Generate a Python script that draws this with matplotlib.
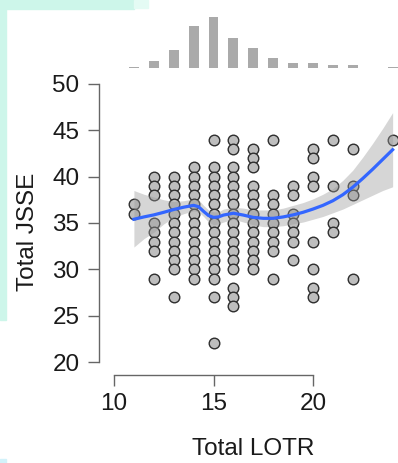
import matplotlib
matplotlib.use("Agg")
import matplotlib.pyplot as plt
from matplotlib.patches import Rectangle

plt.rcParams['font.family'] = ['Liberation Sans', 'DejaVu Sans']

# raw points, one line per LOTR score
lotr = ([11]*2 + [12]*8 + [13]*12 + [14]*13 + [15]*16 + [16]*17 + [17]*13 +
        [18]*9 + [19]*7 + [20]*8 + [21]*4 + [22]*4 + [24]*1)
jsse = [37, 36,
        40, 39, 38, 35, 34, 33, 32, 29,
        40, 39, 38, 37, 36, 35, 34, 33, 32, 31, 30, 27,
        41, 40, 39, 38, 37, 36, 35, 34, 33, 32, 31, 30, 29,
        44, 41, 40, 39, 38, 37, 36, 35, 34, 33, 32, 31, 30, 29, 27, 22,
        44, 43, 41, 40, 39, 38, 37, 36, 35, 34, 33, 32, 31, 30, 28, 27, 26,
        43, 42, 41, 39, 38, 37, 36, 35, 34, 33, 32, 31, 30,
        44, 38, 37, 36, 35, 34, 33, 32, 29,
        39, 38, 36, 35, 34, 33, 31,
        43, 42, 40, 39, 33, 30, 28, 27,
        44, 39, 35, 34,
        43, 39, 38, 29,
        44]

# marginal histogram of LOTR
hist_x = [11, 12, 13, 14, 15, 16, 17, 18, 19, 20, 21, 22, 24]
hist_n = [2, 10, 27, 62, 75, 44, 29, 14, 8, 8, 4, 4, 1]

# loess fit + confidence band
fit_x = [11, 11.5, 12, 12.5, 13, 13.5, 14, 14.25, 14.5, 14.75, 15, 15.25, 15.5,
         16, 16.5, 17, 17.5, 18, 18.5, 19, 19.5, 20, 20.5, 21, 21.5, 22, 22.5,
         23, 23.5, 24]
fit_y = [35.4, 35.65, 35.87, 36.15, 36.45, 36.7, 36.9, 36.75, 36.25, 35.8,
         35.6, 35.65, 35.85, 36.05, 35.85, 35.6, 35.5, 35.5, 35.65, 35.87, 36.15,
         36.5, 36.9, 37.4, 38.05, 38.86, 39.8, 40.8, 41.85, 42.9]
fit_lo = [32.4, 33.3, 34.0, 34.9, 35.6, 36.0, 36.3, 36.2, 35.7, 35.1, 34.8,
          34.9, 35.1, 35.4, 35.1, 34.8, 34.6, 34.6, 34.7, 34.9, 35.1, 35.4,
          35.7, 36.1, 36.5, 37.0, 37.5, 38.0, 38.5, 38.9]
fit_hi = [38.5, 38.1, 37.8, 37.5, 37.3, 37.4, 37.6, 37.5, 36.9, 36.4, 36.2,
          36.2, 36.5, 36.7, 36.6, 36.4, 36.4, 36.4, 36.6, 36.9, 37.2, 37.6,
          38.1, 38.7, 39.6, 40.7, 42.1, 43.6, 45.2, 46.9]

W, H = 398, 463
fig = plt.figure(figsize=(W/100, H/100), dpi=100)

# stray light-cyan strips at the top-left edge of the picture
fig.add_artist(Rectangle((0, 1 - 9/H), 134/W, 9/H, transform=fig.transFigure,
                         color='#cdf6ea', zorder=0))
fig.add_artist(Rectangle((134/W, 1 - 8/H), 14/W, 8/H, transform=fig.transFigure,
                         color='#e4fbf4', zorder=0))
fig.add_artist(Rectangle((0, 1 - 320/H), 6/W, 320/H, transform=fig.transFigure,
                         color='#cdf6ea', zorder=0))
fig.add_artist(Rectangle((0, 0), 6/W, 4/H, transform=fig.transFigure,
                         color='#d2f2fa', zorder=0))

ax = fig.add_axes([99/W, (H-375)/H, 299/W, 300/H])
ax.patch.set_alpha(0)
ax.scatter(lotr, jsse, s=58, facecolor='#bebebe', edgecolor='#2e2e2e',
           linewidth=1.0, zorder=2)
ax.fill_between(fit_x, fit_lo, fit_hi, color='#999999', alpha=0.4,
                linewidth=0, zorder=3)
ax.plot(fit_x, fit_y, color='#3366ff', linewidth=2.3, zorder=4)

ax.set_xlim(9.246, 24.27)
ax.set_ylim(18.6, 50.96)
for s in ['top', 'right']:
    ax.spines[s].set_visible(False)
ax.spines['left'].set_bounds(20, 50)
ax.spines['bottom'].set_bounds(10, 20)
for s in ['left', 'bottom']:
    ax.spines[s].set_color('#666666')
    ax.spines[s].set_linewidth(1.0)
ax.set_xticks([10, 15, 20])
ax.set_yticks([20, 25, 30, 35, 40, 45, 50])
ax.tick_params(direction='out', length=8, width=1.0, color='#666666',
               labelsize=17.5, labelcolor='#1a1a1a')
ax.tick_params(axis='x', pad=5)
ax.tick_params(axis='y', pad=6)

fig.text(253/W, 1 - 455/H, 'Total LOTR', ha='center', va='baseline',
         fontsize=17.5, color='#1a1a1a')
fig.text(28/W, 1 - 232/H, 'Total JSSE', ha='center', va='center',
         rotation=90, fontsize=17.5, color='#1a1a1a')

hx = fig.add_axes([99/W, (H-68)/H, 299/W, 58/H], sharex=ax)
hx.bar(hist_x, hist_n, width=0.5, color='#aaaaaa', linewidth=0)
hx.set_ylim(0, 85.3)
hx.axis('off')

fig.savefig('out.png', dpi=100)
